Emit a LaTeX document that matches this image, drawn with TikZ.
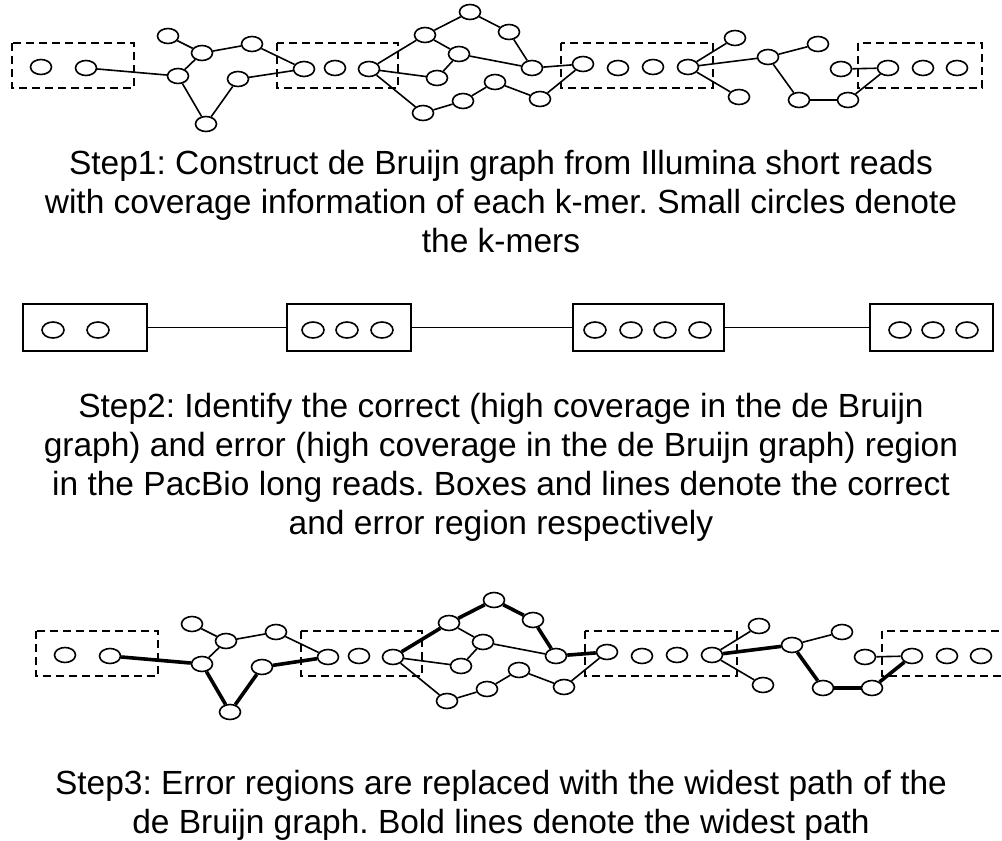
\documentclass[tikz,border=0pt]{standalone}
\usepackage{fontspec}
\setmainfont{Liberation Sans}
\frenchspacing
\usetikzlibrary{shapes.geometric}

\tikzset{
  kmer/.style={ellipse,draw,line width=1.6pt,minimum width=21pt,minimum height=15pt,inner sep=0pt},
  region/.style={line width=1.6pt,dash pattern=on 8pt off 5pt},
  readbox/.style={rectangle,draw,line width=2pt,inner sep=0pt,minimum height=47pt},
  link/.style={line width=1.6pt},
  widest/.style={line width=3.6pt},
  caption/.style={align=center,inner sep=0pt,anchor=north,font=\fontsize{33.5}{39}\selectfont}
}

% de Bruijn graph over the read, #1 = name prefix, #2 = style of the widest path
\newcommand{\kmergraph}[2]{%
  % correct regions
  \draw[region] (12,43) rectangle (134,88);
  \draw[region] (277,43) rectangle (398,88);
  \draw[region] (561,43) rectangle (713,88);
  \draw[region] (858,43) rectangle (982,88);
  % k-mers inside the regions
  \node[kmer] (#1k11) at (41,67) {};
  \node[kmer] (#1k12) at (86,68) {};
  \node[kmer] (#1k21) at (304,69) {};
  \node[kmer] (#1k22) at (335,68) {};
  \node[kmer] (#1k23) at (369,69) {};
  \node[kmer] (#1k31) at (583,64) {};
  \node[kmer] (#1k32) at (618,68) {};
  \node[kmer] (#1k33) at (653,67) {};
  \node[kmer] (#1k34) at (688,67) {};
  \node[kmer] (#1k41) at (888,68) {};
  \node[kmer] (#1k42) at (923,68) {};
  \node[kmer] (#1k43) at (957,68) {};
  % first error region
  \node[kmer] (#1a1) at (168,36) {};
  \node[kmer] (#1a2) at (202,53) {};
  \node[kmer] (#1a3) at (178,76) {};
  \node[kmer] (#1a4) at (252,44) {};
  \node[kmer] (#1a5) at (238,79) {};
  \node[kmer] (#1a6) at (206,124) {};
  % second error region
  \node[kmer] (#1b1) at (425,35) {};
  \node[kmer] (#1b2) at (470,12) {};
  \node[kmer] (#1b3) at (509,32) {};
  \node[kmer] (#1b4) at (459,54) {};
  \node[kmer] (#1b5) at (437,78) {};
  \node[kmer] (#1b6) at (532,68) {};
  \node[kmer] (#1b7) at (495,82) {};
  \node[kmer] (#1b8) at (463,101) {};
  \node[kmer] (#1b9) at (423,113) {};
  \node[kmer] (#1b10) at (540,99) {};
  % third error region
  \node[kmer] (#1d1) at (735,38) {};
  \node[kmer] (#1d2) at (739,97) {};
  \node[kmer] (#1d3) at (768,57) {};
  \node[kmer] (#1d4) at (818,44) {};
  \node[kmer] (#1d5) at (799,100) {};
  \node[kmer] (#1d6) at (848,100) {};
  \node[kmer] (#1d7) at (841,69) {};
  % edges
  \foreach \u/\v in {a1/a2,a2/a3,a2/a4,a4/k21,b1/b4,b4/b6,k23/b5,b5/b4,k23/b9,b9/b8,b8/b7,b7/b10,b10/k31,k34/d1,k34/d2,d3/d4,d7/k41}
    \draw[link] (#1\u) -- (#1\v);
  \foreach \u/\v in {k12/a3,a3/a6,a6/a5,a5/k21,k23/b1,b1/b2,b2/b3,b3/b6,b6/k31,k34/d3,d3/d5,d5/d6,d6/k41}
    \draw[link,#2] (#1\u) -- (#1\v);
}

\begin{document}
\begin{tikzpicture}[x=1pt,y=-1pt]
  \clip (0,0) rectangle (1002,841);

  % Step 1
  \kmergraph{s1}{}
  \node[caption] (cap1) at (501,150) {Step1: Construct de Bruijn graph from Illumina short reads\\
    with coverage information of each k-mer. Small circles denote\\
    the k-mers};

  % Step 2
  \node[readbox,minimum width=124pt] (r1) at (85,327.5) {};
  \node[readbox,minimum width=124pt] (r2) at (349,327.5) {};
  \node[readbox,minimum width=151pt] (r3) at (648.5,327.5) {};
  \node[readbox,minimum width=123pt] (r4) at (931.5,327.5) {};
  \draw[link] (r1) -- (r2);
  \draw[link] (r2) -- (r3);
  \draw[link] (r3) -- (r4);
  \foreach \x in {53,98,313,347,382,595,631,665,700,900,933,967}
    \node[kmer,minimum width=22pt,minimum height=16pt] (c\x) at (\x,330) {};
  \node[caption] (cap2) at (501,393) {Step2: Identify the correct (high coverage in the de Bruijn\\
    graph) and error (high coverage in the de Bruijn graph) region\\
    in the PacBio long reads. Boxes and lines denote the correct\\
    and error region respectively};

  % Step 3
  \begin{scope}[shift={(24,588)}]
    \kmergraph{s3}{widest}
  \end{scope}
  \node[caption] (cap3) at (501,770) {Step3: Error regions are replaced with the widest path of the\\
    de Bruijn graph. Bold lines denote the widest path};
\end{tikzpicture}
\end{document}
